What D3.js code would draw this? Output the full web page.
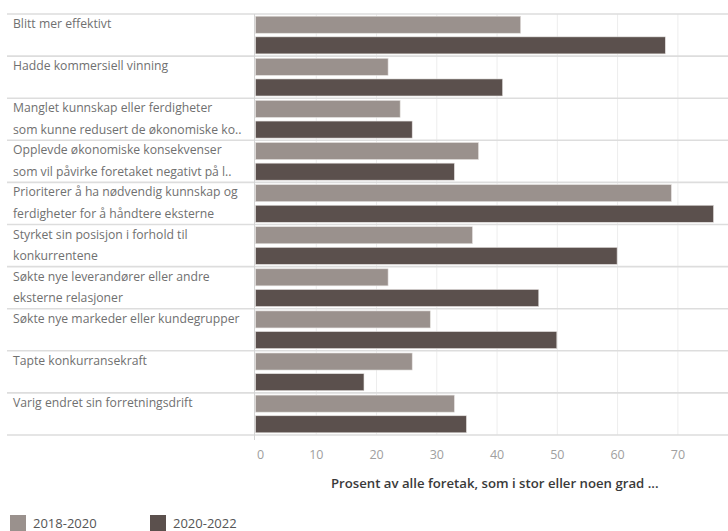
<!DOCTYPE html>
<html>
<head>
<meta charset="utf-8">
<script src="https://cdn.jsdelivr.net/npm/d3@7"></script>
<style>
  html, body { margin: 0; padding: 0; background: #fff; }
  svg { display: block; }
</style>
</head>
<body>
<div id="chart"></div>
<script>
// Row labels, already wrapped / truncated as in the reference
const categories = [
  ['Blitt mer effektivt'],
  ['Hadde kommersiell vinning'],
  ['Manglet kunnskap eller ferdigheter', 'som kunne redusert de økonomiske ko..'],
  ['Opplevde økonomiske konsekvenser', 'som vil påvirke foretaket negativt på l..'],
  ['Prioriterer å ha nødvendig kunnskap og', 'ferdigheter for å håndtere eksterne'],
  ['Styrket sin posisjon i forhold til', 'konkurrentene'],
  ['Søkte nye leverandører eller andre', 'eksterne relasjoner'],
  ['Søkte nye markeder eller kundegrupper'],
  ['Tapte konkurransekraft'],
  ['Varig endret sin forretningsdrift']
];
const series = ['2018-2020', '2020-2022'];
const values2018 = [44, 22, 24, 37, 69, 36, 22, 29, 26, 33];
const values2020 = [68, 41, 26, 33, 76, 60, 47, 50, 18, 35];
const xTicks = [0, 10, 20, 30, 40, 50, 60, 70];
const axisTitle = 'Prosent av alle foretak, som i stor eller noen grad ...';

const width = 728, height = 531;
const colors = { '2018-2020': '#9a918d', '2020-2022': '#5b504d' };
const fontFamily = '"Open Sans", Lato, sans-serif';

const rows = categories.map((lines, i) => ({
  key: i,
  lines,
  vals: [
    { s: series[0], v: values2018[i] },
    { s: series[1], v: values2020[i] }
  ]
}));

const svg = d3.select('#chart').append('svg')
  .attr('width', width)
  .attr('height', height);

const x = d3.scaleLinear().domain([0, 78.4]).range([255.5, width]);
const y = d3.scaleBand().domain(rows.map(d => d.key)).range([14, 435]);
const ySub = d3.scaleBand().domain(series).range([0, y.bandwidth()])
  .paddingInner(0.175).paddingOuter(0.107);

// vertical grid
svg.append('g')
  .selectAll('line')
  .data(xTicks.slice(1))
  .join('line')
  .attr('x1', d => x(d) + 0.5).attr('x2', d => x(d) + 0.5)
  .attr('y1', 14).attr('y2', 435)
  .attr('stroke', '#ededed').attr('stroke-width', 1);

// bars
const gRows = svg.append('g')
  .selectAll('g')
  .data(rows)
  .join('g')
  .attr('transform', d => `translate(0,${y(d.key)})`);

gRows.selectAll('rect')
  .data(d => d.vals)
  .join('rect')
  .attr('x', x(0))
  .attr('y', d => ySub(d.s))
  .attr('width', d => x(d.v) - x(0))
  .attr('height', ySub.bandwidth())
  .attr('fill', d => colors[d.s])
  .attr('stroke', '#e4e1df')
  .attr('stroke-width', 0.6);

// row separators
svg.append('g')
  .selectAll('line')
  .data(rows.map(d => y(d.key)).concat([435]))
  .join('line')
  .attr('x1', 7).attr('x2', width)
  .attr('y1', d => d).attr('y2', d => d)
  .attr('stroke', '#dddddd').attr('stroke-width', 1.6);

// header divider
svg.append('line')
  .attr('x1', 254.5).attr('x2', 254.5)
  .attr('y1', 14).attr('y2', 440)
  .attr('stroke', '#d4d4d4').attr('stroke-width', 1);

// row labels
gRows.append('text')
  .attr('font-family', fontFamily)
  .attr('font-size', '12.2px')
  .attr('fill', '#707070')
  .selectAll('tspan')
  .data(d => d.lines)
  .join('tspan')
  .attr('x', 13)
  .attr('y', (d, i) => 14 + i * 21.5)
  .text(d => d);

// x axis
const xAxis = svg.append('g')
  .attr('transform', 'translate(0,435)')
  .call(d3.axisBottom(x).tickValues(xTicks).tickSize(0).tickPadding(0).tickFormat(d3.format('d')));
xAxis.select('.domain').remove();
xAxis.selectAll('text')
  .attr('y', 24)
  .attr('dy', 0)
  .attr('dx', d => d === 0 ? 4.5 : 0)
  .style('font-family', fontFamily)
  .style('font-size', '12.5px')
  .style('fill', '#a0a0a0');

svg.append('text')
  .attr('x', (x.range()[0] + x.range()[1]) / 2 + 3)
  .attr('y', 488)
  .attr('text-anchor', 'middle')
  .attr('font-family', fontFamily)
  .attr('font-size', '13.2px')
  .attr('font-weight', 600)
  .attr('fill', '#3a3a3a')
  .text(axisTitle);

// legend
const legend = svg.append('g')
  .selectAll('g')
  .data(series)
  .join('g')
  .attr('transform', (d, i) => `translate(${10 + i * 140},515)`);
legend.append('rect')
  .attr('width', 16).attr('height', 16)
  .attr('fill', d => colors[d]);
legend.append('text')
  .attr('x', 23).attr('y', 13)
  .attr('font-family', fontFamily)
  .attr('font-size', '13px')
  .attr('fill', '#555')
  .text(d => d);
</script>
</body>
</html>
